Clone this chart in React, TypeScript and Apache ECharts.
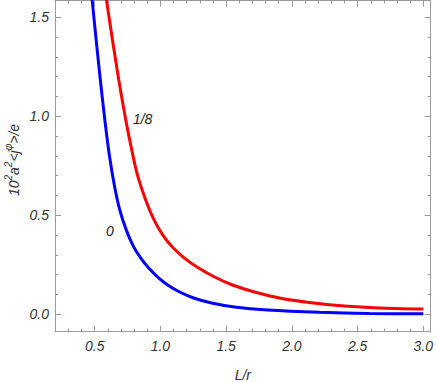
import React, { useEffect, useRef } from "react";
import * as echarts from "echarts";

// curve "0"
const blueL = [0.4658, 0.481, 0.5114, 0.5432, 0.5774, 0.6115, 0.6494, 0.6912, 0.7405, 0.7936, 0.8505, 0.9112, 0.9795, 1.0553, 1.1464, 1.2526, 1.3892, 1.5637, 1.8141, 2.2086, 2.588, 3.0];
const blueV = [1.685, 1.5842, 1.3826, 1.1809, 0.9793, 0.8029, 0.6517, 0.5257, 0.4249, 0.3442, 0.2838, 0.2334, 0.188, 0.1477, 0.1124, 0.0822, 0.057, 0.0368, 0.0217, 0.0101, 0.0045, 0.002];
// curve "1/8"
const redL = [0.568, 0.5903, 0.6358, 0.6836, 0.7367, 0.7822, 0.8255, 0.8885, 0.9522, 1.0182, 1.091, 1.1821, 1.2906, 1.412, 1.5485, 1.7155, 1.9052, 2.1328, 2.3984, 2.6638, 3.0];
const redV = [1.685, 1.5842, 1.3825, 1.1809, 0.9793, 0.8281, 0.7021, 0.5761, 0.4753, 0.3997, 0.3392, 0.2838, 0.2334, 0.188, 0.1477, 0.1124, 0.0822, 0.0595, 0.0418, 0.0318, 0.026];

const xMajor = [0.5, 1.0, 1.5, 2.0, 2.5, 3.0];
const xMinor = [0.3, 0.4, 0.6, 0.7, 0.8, 0.9, 1.1, 1.2, 1.3, 1.4, 1.6, 1.7, 1.8, 1.9, 2.1, 2.2, 2.3, 2.4, 2.6, 2.7, 2.8, 2.9];
const yMajor = [0.0, 0.5, 1.0, 1.5];
const yMinor = [0.1, 0.2, 0.3, 0.4, 0.6, 0.7, 0.8, 0.9, 1.1, 1.2, 1.3, 1.4];

const X_MIN = 0.198;
const X_MAX = 3.056;
const Y_MIN = -0.088;
const Y_MAX = 1.584;

const FONT = "'Liberation Sans', Arial, sans-serif";
const AXIS_COLOR = "#9a9a9a";
const LABEL_COLOR = "#333";

export default function App() {
  const ref = useRef<HTMLDivElement>(null);
  useEffect(() => {
    if (!ref.current) return;
    const chart = echarts.init(ref.current, undefined, { renderer: "svg" });
    const tickStyle = { color: AXIS_COLOR, width: 1 };
    const baseX = (extra: any) => ({
      type: "value",
      min: X_MIN,
      max: X_MAX,
      splitLine: { show: false },
      ...extra,
    });
    const baseY = (extra: any) => ({
      type: "value",
      min: Y_MIN,
      max: Y_MAX,
      splitLine: { show: false },
      ...extra,
    });
    const labelStyle = {
      fontFamily: FONT,
      fontStyle: "italic",
      fontSize: 14,
      color: LABEL_COLOR,
      formatter: (v: number) => v.toFixed(1),
    };
    const lineCommon = {
      type: "line",
      xAxisIndex: 0,
      yAxisIndex: 0,
      showSymbol: false,
      smooth: 0.25,
      clip: true,
    };
    chart.setOption({
      animation: false,
      grid: { left: 55, right: 5.3, top: 0.5, bottom: 50.3, containLabel: false, outerBoundsMode: "none" },
      graphic: [
        {
          type: "text",
          x: 14,
          y: 160,
          rotation: Math.PI / 2,
          style: {
            text: "{a|10}{s|2}{a|a}{s|2}{a|<j}{s|φ}{a|>/e}",
            align: "center",
            verticalAlign: "middle",
            rich: {
              a: { fontFamily: FONT, fontStyle: "italic", fontSize: 14, fill: LABEL_COLOR, lineHeight: 22, verticalAlign: "middle" },
              s: { fontFamily: FONT, fontStyle: "italic", fontSize: 10, fill: LABEL_COLOR, lineHeight: 10, verticalAlign: "top" },
            },
          },
        },
      ],
      xAxis: [
        baseX({
          position: "bottom",
          axisLine: { show: true, onZero: false, lineStyle: tickStyle },
          axisTick: { show: true, inside: true, length: 6, customValues: xMajor, lineStyle: tickStyle },
          axisLabel: { show: true, margin: 7, customValues: xMajor, ...labelStyle },
          name: "L/r",
          nameLocation: "middle",
          nameGap: 36,
          nameTextStyle: { fontFamily: FONT, fontStyle: "italic", fontSize: 14, color: LABEL_COLOR },
        }),
        baseX({
          position: "bottom",
          axisLine: { show: false, onZero: false },
          axisTick: { show: true, inside: true, length: 3, customValues: xMinor, lineStyle: tickStyle },
          axisLabel: { show: false },
        }),
        baseX({
          position: "top",
          axisLine: { show: true, onZero: false, lineStyle: tickStyle },
          axisTick: { show: true, inside: true, length: 6, customValues: xMajor, lineStyle: tickStyle },
          axisLabel: { show: false },
        }),
        baseX({
          position: "top",
          axisLine: { show: false, onZero: false },
          axisTick: { show: true, inside: true, length: 3, customValues: xMinor, lineStyle: tickStyle },
          axisLabel: { show: false },
        }),
      ],
      yAxis: [
        baseY({
          position: "left",
          axisLine: { show: true, onZero: false, lineStyle: tickStyle },
          axisTick: { show: true, inside: true, length: 6, customValues: yMajor, lineStyle: tickStyle },
          axisLabel: { show: true, margin: 6, customValues: yMajor, ...labelStyle },
        }),
        baseY({
          position: "left",
          axisLine: { show: false, onZero: false },
          axisTick: { show: true, inside: true, length: 3, customValues: yMinor, lineStyle: tickStyle },
          axisLabel: { show: false },
        }),
        baseY({
          position: "right",
          axisLine: { show: true, onZero: false, lineStyle: tickStyle },
          axisTick: { show: true, inside: true, length: 6, customValues: yMajor, lineStyle: tickStyle },
          axisLabel: { show: false },
        }),
        baseY({
          position: "right",
          axisLine: { show: false, onZero: false },
          axisTick: { show: true, inside: true, length: 3, customValues: yMinor, lineStyle: tickStyle },
          axisLabel: { show: false },
        }),
      ],
      series: [
        {
          ...lineCommon,
          name: "0",
          data: blueL.map((l, i) => [l, blueV[i]]),
          lineStyle: { color: "#0000ff", width: 3 },
          itemStyle: { color: "#0000ff" },
          markPoint: {
            symbol: "circle",
            symbolSize: 0,
            data: [{ coord: [0.615, 0.42] }],
            label: { show: true, position: "inside", formatter: "0", fontFamily: FONT, fontStyle: "italic", fontSize: 14, color: "#222" },
          },
        },
        {
          ...lineCommon,
          name: "1/8",
          data: redL.map((l, i) => [l, redV[i]]),
          lineStyle: { color: "#ff0000", width: 3 },
          itemStyle: { color: "#ff0000" },
          markPoint: {
            symbol: "circle",
            symbolSize: 0,
            data: [{ coord: [0.865, 0.984] }],
            label: { show: true, position: "inside", formatter: "1/8", fontFamily: FONT, fontStyle: "italic", fontSize: 14, color: "#222" },
          },
        },
      ],
    });
    return () => chart.dispose();
  }, []);
  return <div ref={ref} style={{ position: "absolute", left: 0, top: 0, width: 436, height: 382 }} />;
}
